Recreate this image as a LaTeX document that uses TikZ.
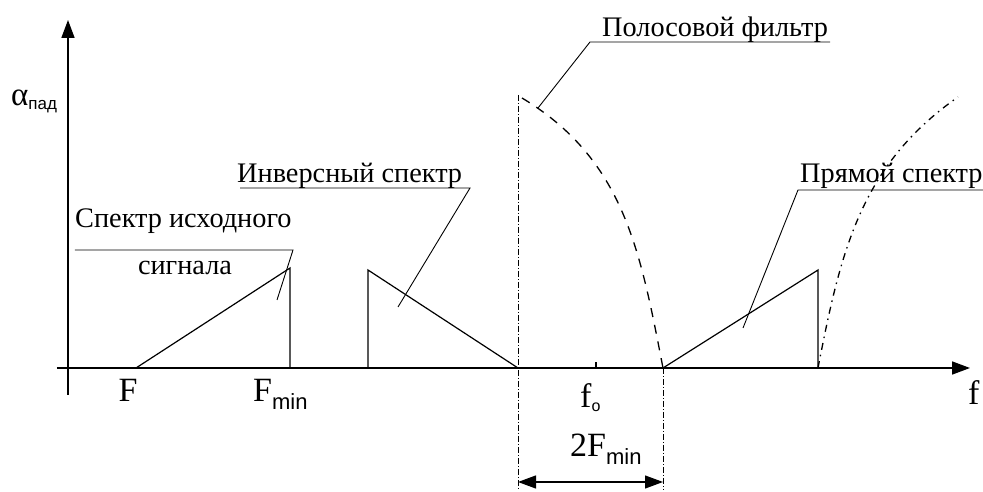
\documentclass[tikz,border=0pt]{standalone}
\usepackage{fontspec}
\setmainfont{Liberation Serif}
\newfontfamily\subsans{Liberation Sans}
\usetikzlibrary{arrows.meta}

\begin{document}
\begin{tikzpicture}[x=1pt, y=1pt, line cap=butt,
    axisline/.style={line width=1.7pt},
    specline/.style={line width=1.2pt},
    leader/.style={line width=0.9pt},
    edgeline/.style={line width=0.9pt, dash pattern=on 6pt off 2pt on 1pt off 2pt},
    filtcurve/.style={line width=1.3pt, dash pattern=on 9pt off 8pt},
    mirrcurve/.style={line width=1.3pt, dash pattern=on 7pt off 5pt on 1.5pt off 5pt},
    lbl/.style={inner sep=0, font=\fontsize{28.3}{30}\selectfont},
    axlbl/.style={inner sep=0, font=\fontsize{34}{36}\selectfont},
    headtip/.tip={Triangle[length=18pt, width=13pt]}]

% frame: 983 x 492, origin where the axes meet
\useasboundingbox (-68,-124) rectangle (915,368);

% --- axes ---
\coordinate (ybot) at (0,-27);
\coordinate (ytop) at (0,348);
\coordinate (xleft) at (-11,0);
\coordinate (xright) at (902,0);
\draw[axisline, -headtip] (ybot) -- (ytop);
\draw[axisline, -headtip] (xleft) -- (xright);

\node[axlbl, anchor=base west] (alab) at (-57,262)
  {\fontsize{33}{34}\selectfont α\raisebox{-4pt}{\subsans\fontsize{17}{18}\selectfont пад}};
\node[axlbl, anchor=base west] (flab) at (900,-37) {f};

% --- source spectrum ---
\coordinate (sA) at (68,0);
\coordinate (sB) at (222,100);
\coordinate (sC) at (222,0);
\draw[specline] (sA) -- (sB) -- (sC);
\node[axlbl, anchor=base] (Flab) at (60,-34) {F};
\node[axlbl, anchor=base west] (Fminlab) at (185,-34)
  {F\raisebox{-8pt}{\subsans\fontsize{22}{24}\selectfont min}};

% --- inverse spectrum ---
\coordinate (iA) at (300,0);
\coordinate (iB) at (300,98);
\coordinate (iC) at (450,0);
\draw[specline] (iA) -- (iB) -- (iC);

% --- direct spectrum ---
\coordinate (dA) at (595,0);
\coordinate (dB) at (750,98);
\coordinate (dC) at (750,0);
\draw[specline] (dA) -- (dB) -- (dC);

% --- band-pass filter ---
\coordinate (eLtop) at (450,273);
\coordinate (eLbot) at (450,-122);
\coordinate (eRtop) at (595,0);
\coordinate (eRbot) at (595,-122);
\draw[edgeline] (eLtop) -- (eLbot);
\draw[edgeline] (eRtop) -- (eRbot);
\coordinate (fTop) at (454,270);
\draw[filtcurve] (fTop) to[out=-31, in=101] (eRtop);
\coordinate (mTop) at (890,271);
\draw[mirrcurve] (dC) to[out=79, in=-145] (mTop);

% centre frequency and band width
\coordinate (tick) at (528,6);
\draw[specline] (528,0) -- (tick);
\node[axlbl, anchor=base west] (f0lab) at (512,-40)
  {f\raisebox{-4pt}{\subsans\fontsize{16}{17}\selectfont o}};
\node[axlbl, anchor=base west] (bwlab) at (502,-89)
  {2F\raisebox{-8pt}{\subsans\fontsize{22}{24}\selectfont min}};
\coordinate (bwL) at (450,-114);
\coordinate (bwR) at (595,-114);
\draw[specline, headtip-headtip] (bwL) -- (bwR);

% --- callouts ---
\node[lbl, anchor=base west] (srclab) at (7,140) {Спектр исходного};
\node[lbl, anchor=base] (srclab2) at (117,93) {сигнала};
\coordinate (srcUL) at (7,118);
\coordinate (srcUR) at (225,118);
\coordinate (srcPt) at (209,68);
\draw[leader] (srcUL) -- (srcUR) -- (srcPt);

\node[lbl, anchor=base west] (invlab) at (169,185) {Инверсный спектр};
\coordinate (invUL) at (172,180);
\coordinate (invUR) at (402,180);
\coordinate (invPt) at (330,61);
\draw[leader] (invUL) -- (invUR) -- (invPt);

\node[lbl, anchor=base west] (filtlab) at (534,331) {Полосовой фильтр};
\coordinate (filtUL) at (522,326);
\coordinate (filtUR) at (762,326);
\coordinate (filtPt) at (470,260);
\draw[leader] (filtUR) -- (filtUL) -- (filtPt);

\node[lbl, anchor=base west] (dirlab) at (732,185) {Прямой спектр};
\coordinate (dirUL) at (730,178);
\coordinate (dirUR) at (915,178);
\coordinate (dirPt) at (675,40);
\draw[leader] (dirUR) -- (dirUL) -- (dirPt);

\end{tikzpicture}
\end{document}
